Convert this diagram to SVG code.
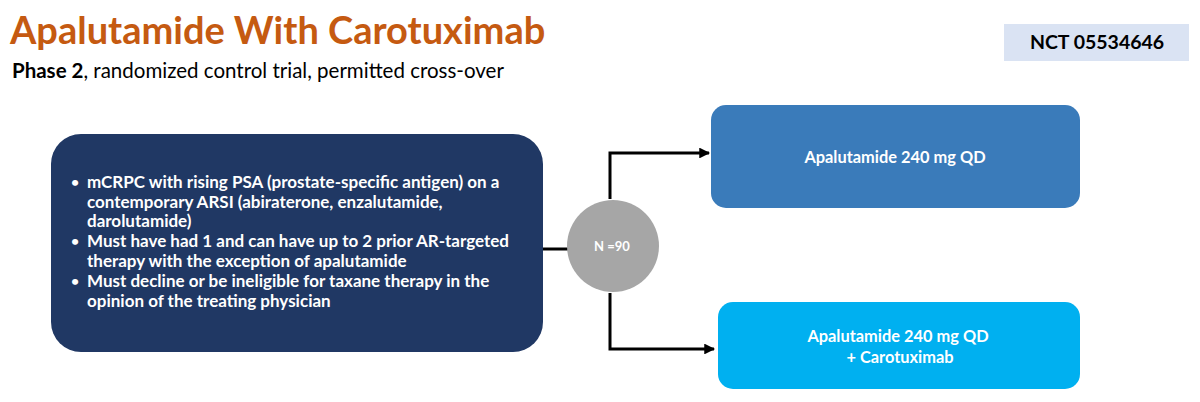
<svg xmlns="http://www.w3.org/2000/svg" width="1200" height="402" viewBox="0 0 1200 402">
<defs>
<style>
text{font-family:Lato,"Open Sans","Liberation Sans",sans-serif}
.title{font-size:38px;font-weight:bold;fill:#C55A11}
.sub{font-size:20.5px;fill:#000}
.b{font-weight:bold}
.bul{font-size:17px;font-weight:bold;fill:#fff}
.dot{font-size:14px}
.arm{font-size:16.4px;font-weight:bold;fill:#fff;text-anchor:middle}
.conn{stroke:#000;stroke-width:3;fill:none}
</style>
<marker id="ah" viewBox="0 0 10 10" refX="9" refY="5" markerWidth="4" markerHeight="3.6" orient="auto" markerUnits="strokeWidth">
<path d="M0,0 L10,5 L0,10 z" fill="#000"/>
</marker>
</defs>
<rect width="1200" height="402" fill="#fff"/>
<g id="header">
<text class="title" x="10" y="44">Apalutamide With Carotuximab</text>
<text class="sub" x="12" y="78"><tspan class="b">Phase 2</tspan>, randomized control trial, permitted cross-over</text>
</g>
<g id="nct">
<rect x="1004" y="24" width="185" height="37" fill="#DAE3F3"/>
<text x="1097" y="49" font-size="19.5" font-weight="bold" text-anchor="middle" fill="#000">NCT 05534646</text>
</g>
<g id="connectors">
<line class="conn" x1="543" y1="249" x2="568" y2="249"/>
<polyline class="conn" points="610,199 610,153 709,153" marker-end="url(#ah)"/>
<polyline class="conn" points="610,293 610,349 714,349" marker-end="url(#ah)"/>
</g>
<g id="criteria">
<rect x="51" y="134" width="492" height="218" rx="30" fill="#203864"/>
<g class="bul">
<text class="dot" x="71" y="187">•</text><text x="87" y="188">mCRPC with rising PSA (prostate-specific antigen) on a</text>
<text x="87" y="207.5">contemporary ARSI (abiraterone, enzalutamide,</text>
<text x="87" y="227">darolutamide)</text>
<text class="dot" x="71" y="246">•</text><text x="87" y="247">Must have had 1 and can have up to 2 prior AR-targeted</text>
<text x="87" y="267">therapy with the exception of apalutamide</text>
<text class="dot" x="71" y="286">•</text><text x="87" y="287">Must decline or be ineligible for taxane therapy in the</text>
<text x="87" y="307">opinion of the treating physician</text>
</g>
</g>
<g id="randomization">
<circle cx="613" cy="246" r="46" fill="#A6A6A6"/>
<text x="612" y="251" font-size="13" font-weight="bold" fill="#fff" text-anchor="middle">N =90</text>
</g>
<g id="arm1">
<rect x="711" y="105" width="369" height="103" rx="15" fill="#3A7BBA"/>
<text class="arm" x="895" y="163">Apalutamide 240 mg QD</text>
</g>
<g id="arm2">
<rect x="718" y="302" width="362" height="87" rx="15" fill="#00B0F0"/>
<text class="arm" x="898" y="342">Apalutamide 240 mg QD</text>
<text class="arm" x="900" y="363">+ Carotuximab</text>
</g>
</svg>
